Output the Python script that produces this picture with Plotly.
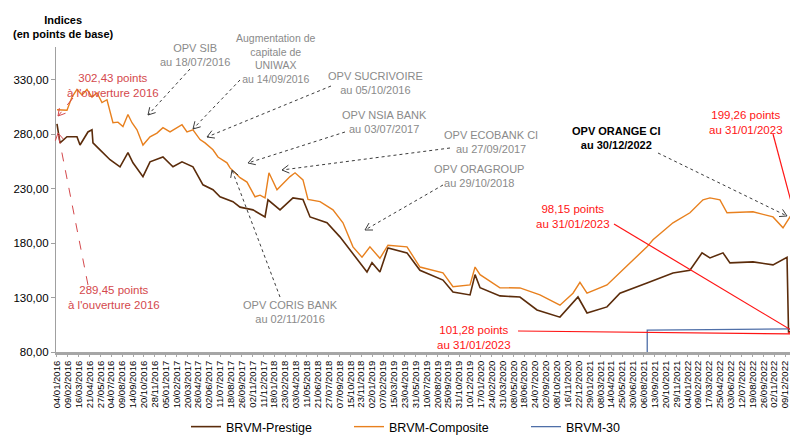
import math
import plotly.graph_objects as go

# ---------------- data ----------------
tick_labels = [
    "04/01/2016", "09/02/2016", "16/03/2016", "21/04/2016", "27/05/2016", "04/07/2016",
    "09/08/2016", "14/09/2016", "20/10/2016", "28/11/2016", "05/01/2017", "10/02/2017",
    "20/03/2017", "26/04/2017", "02/06/2017", "11/07/2017", "18/08/2017", "26/09/2017",
    "02/11/2017", "11/12/2017", "18/01/2018", "23/02/2018", "03/04/2018", "11/05/2018",
    "21/06/2018", "27/07/2018", "07/09/2018", "15/10/2018", "23/11/2018", "02/01/2019",
    "07/02/2019", "15/03/2019", "23/04/2019", "31/05/2019", "10/07/2019", "20/08/2019",
    "25/09/2019", "31/10/2019", "10/12/2019", "17/01/2020", "24/02/2020", "31/03/2020",
    "08/05/2020", "18/06/2020", "24/07/2020", "02/09/2020", "08/10/2020", "16/11/2020",
    "22/12/2020", "29/01/2021", "08/03/2021", "14/04/2021", "25/05/2021", "30/06/2021",
    "06/08/2021", "13/09/2021", "20/10/2021", "29/11/2021", "04/01/2022", "09/02/2022",
    "17/03/2022", "25/04/2022", "03/06/2022", "12/07/2022", "19/08/2022", "26/09/2022",
    "02/11/2022", "09/12/2022", "17/01/2023",
]

# positions expressed in tick-interval units (0 = 04/01/2016, 68 = 17/01/2023)
composite_pos = [0, 0.92, 1.38, 1.84, 2.3, 2.76, 3.22, 3.68, 4.14, 4.6, 5.15, 5.61, 6.07, 6.53,
                 6.9, 7.36, 7.91, 8.56, 9.2, 9.75, 10.4, 11.04, 11.5, 11.96, 12.51, 13.16, 13.62,
                 14.35, 14.81, 15.64, 15.92, 16.84, 17.48, 18.22, 18.68, 19.14, 19.5, 20.24, 21.44,
                 21.9, 22.63, 23.09, 24.2, 25.39, 26.31, 27.23, 28.06, 28.79, 29.71, 30.45, 32.2,
                 33.39, 35.51, 36.43, 38.0, 38.46, 38.92, 40.75, 42.59, 44.43, 46.27, 47.47, 48.11,
                 48.76, 50.6, 52.71, 54.28, 54.83, 56.67, 58.23, 59.43, 60.07, 60.99, 61.64, 64.03,
                 65.87, 66.79, 67.43, 68.08, 68.4]
composite_val = [302.43, 302, 314, 321, 316, 321, 314, 318, 309, 311.6, 290.5, 291, 287, 298,
                 290.5, 284, 270, 277.6, 281, 286, 282, 286, 288.6, 282, 284, 275, 272,
                 265.6, 259, 253.7, 249, 240, 236, 222.5, 224, 221.5, 244.5, 229, 241,
                 244.5, 238, 220, 218, 210.5, 198.6, 176.5, 167, 176.5, 166, 178, 176.5,
                 158, 152.6, 140, 141.6, 158, 151, 139, 138.8, 132.4, 123, 134, 144,
                 134, 141.6, 161.8, 176.5, 183, 198.6, 207.8, 219.7, 221.5, 219.7, 207.8, 208.7,
                 204, 194, 204, 197.6, 199.26]

prestige_pos = [0, 0.28, 0.92, 1.84, 2.12, 2.85, 3.22, 3.31, 3.96, 4.88, 5.8, 6.53, 6.99, 7.91,
                8.56, 9.75, 10.67, 11.5, 12.51, 13.43, 14.35, 15.0, 16.19, 16.84, 18.03, 19.14,
                19.41, 20.52, 21.71, 22.63, 23.28, 24.84, 26.03, 26.95, 28.52, 28.98, 29.71, 30.45,
                32.2, 33.39, 35.51, 36.43, 38.0, 38.46, 38.92, 40.75, 42.59, 44.16, 46.27, 47.93,
                48.76, 50.6, 51.79, 54.28, 56.67, 58.23, 59.34, 60.07, 61.27, 61.91, 64.03, 65.87,
                67.16, 67.3, 68.08, 68.4]
prestige_val = [289.45, 272, 277.6, 277.6, 270, 282, 284, 272, 265.6, 256.5, 250, 263, 253.7, 241,
                254.6, 259, 250, 254.6, 250, 233.5, 229, 222.5, 218, 213, 210.5, 204,
                219.7, 210.5, 221.5, 220, 204, 198.6, 185.7, 173.7, 153.5, 162, 153.5, 175.6,
                171, 155, 146, 135, 132.4, 151, 139, 131.5, 130.5, 118.6, 112, 130.5,
                115.8, 121.4, 134, 143.4, 152.6, 155, 171, 166.4, 171, 161.8, 162.7, 160,
                167, 98.5, 98.15, 98.15]

brvm30_pos = [54.3, 54.3, 60.0, 64.0, 68.4]
brvm30_val = [0, 100.0, 100.5, 100.8, 101.28]

y_ticks = [80, 130, 180, 230, 280, 330]

assert len(composite_pos) == len(composite_val)
assert len(prestige_pos) == len(prestige_val)

FONT = "Liberation Sans"
C_PRESTIGE = "#5b2c0b"
C_COMPOSITE = "#e8801e"
C_BRVM30 = "#4f6fa8"
C_GREY = "#8a8a8a"
C_RED_SOFT = "#d4484c"
C_RED = "#ff1414"

# page offset (the html body has an 8px margin); coordinates below are in screen pixels
OFF = 8
SCREEN_W, SCREEN_H = 798, 436
W, H = SCREEN_W - OFF, SCREEN_H - OFF
# plot area in screen pixels
L, R, T, B = 56, 798, 47, 352


def px(x):
    return (x - L) / (R - L)


def py(y):
    return (B - y) / (B - T)


fig = go.Figure()
fig.add_trace(go.Scatter(x=prestige_pos, y=prestige_val, mode="lines", name="BRVM-Prestige",
                         line=dict(color=C_PRESTIGE, width=1.6), legend="legend"))
fig.add_trace(go.Scatter(x=composite_pos, y=composite_val, mode="lines", name="BRVM-Composite",
                         line=dict(color=C_COMPOSITE, width=1.4), legend="legend2"))
fig.add_trace(go.Scatter(x=brvm30_pos, y=brvm30_val, mode="lines", name="BRVM-30",
                         line=dict(color=C_BRVM30, width=1.3), legend="legend3"))

shapes = []
annotations = []


def arrow(x0, y0, x1, y1, color, dash, width, head=8, ang=30):
    shapes.append(dict(type="line", xref="paper", yref="paper", x0=px(x0), y0=py(y0),
                       x1=px(x1), y1=py(y1), line=dict(color=color, width=width, dash=dash)))
    dx, dy = x1 - x0, y1 - y0
    ln = math.hypot(dx, dy)
    ux, uy = -dx / ln, -dy / ln
    pts = []
    for s in (1, -1):
        a = math.radians(ang * s)
        bx = ux * math.cos(a) - uy * math.sin(a)
        by = ux * math.sin(a) + uy * math.cos(a)
        pts.append((x1 + bx * head, y1 + by * head))
    path = (f"M {px(pts[0][0])},{py(pts[0][1])} L {px(x1)},{py(y1)} "
            f"L {px(pts[1][0])},{py(pts[1][1])}")
    shapes.append(dict(type="path", xref="paper", yref="paper", path=path,
                       line=dict(color=color, width=width)))


def label(x, y, text, color, size=11, bold=False):
    if bold:
        text = "<br>".join(f"<b>{t}</b>" for t in text.split("<br>"))
    annotations.append(dict(xref="paper", yref="paper", x=px(x), y=py(y), text=text,
                            showarrow=False, xanchor="center", yanchor="middle",
                            font=dict(family=FONT, size=size, color=color)))


label(63, 27, "Indices<br>(en points de base)", "#000000", size=11, bold=True)

label(113, 85, "302,43 points<br>à l'ouverture 2016", C_RED_SOFT, size=11.5)
arrow(73, 98, 58, 116, C_RED_SOFT, "dash", 1)
label(114, 297, "289,45 points<br>à l'ouverture 2016", C_RED_SOFT, size=11.5)
arrow(88, 285, 58, 133, C_RED_SOFT, "dash", 1)

DOT = "#3c3c3c"
label(195, 55, "OPV SIB<br>au 18/07/2016", C_GREY, size=11)
arrow(190, 69, 148, 115, DOT, "dot", 1)
label(276, 58, "Augmentation de<br>capitale de<br>UNIWAX<br>au 14/09/2016", C_GREY, size=10.5)
arrow(240, 80, 193, 129, DOT, "dot", 1)
label(375, 83, "OPV SUCRIVOIRE<br>au 05/10/2016", C_GREY, size=11)
arrow(331, 86, 207, 137, DOT, "dot", 1)
label(384, 122, "OPV NSIA BANK<br>au 03/07/2017", C_GREY, size=11)
arrow(345, 132, 248, 163, DOT, "dot", 1)
label(491, 142, "OPV ECOBANK CI<br>au 27/09/2017", C_GREY, size=11)
arrow(450, 148, 282, 170, DOT, "dot", 1)
label(479, 176, "OPV ORAGROUP<br>au 29/10/2018", C_GREY, size=11)
arrow(443, 185, 365, 230, DOT, "dot", 1)
label(290, 312, "OPV CORIS BANK<br>au 02/11/2016", C_GREY, size=11)
arrow(280, 297, 232, 170, DOT, "dot", 1)

label(616, 138, "OPV ORANGE CI<br>au 30/12/2022", "#000000", size=11, bold=True)
arrow(658, 153, 787, 216, DOT, "dot", 1)

label(746, 122, "199,26 points<br>au 31/01/2023", C_RED, size=11.5)
arrow(773, 134, 797, 224, C_RED, "solid", 1.2)
label(573, 216, "98,15 points<br>au 31/01/2023", C_RED, size=11.5)
arrow(614, 224, 796, 333, C_RED, "solid", 1.2)
label(474, 337, "101,28 points<br>au 31/01/2023", C_RED, size=11.5)
arrow(518, 331, 797, 334, C_RED, "solid", 1.2)

legend_common = dict(orientation="h", yanchor="middle", xanchor="left", bgcolor="rgba(0,0,0,0)",
                     font=dict(family=FONT, size=12.5, color="#000000"), itemwidth=30)

fig.update_layout(
    width=W, height=H,
    margin=dict(l=L - OFF, r=SCREEN_W - R, t=T - OFF, b=SCREEN_H - B, pad=0, autoexpand=False),
    paper_bgcolor="white", plot_bgcolor="white",
    font=dict(family=FONT, color="#000000"),
    showlegend=True,
    legend=dict(x=px(186), y=py(427), **legend_common),
    legend2=dict(x=px(349), y=py(427), **legend_common),
    legend3=dict(x=px(526), y=py(427), **legend_common),
    xaxis=dict(range=[-0.09, 68.17], tickmode="array", tickvals=list(range(len(tick_labels))),
               ticktext=tick_labels, tickangle=-90, tickfont=dict(family=FONT, size=9.5, color="#000"),
               ticklabeloverflow="allow",
               showgrid=False, zeroline=False, showline=True, linecolor="#a6a6a6", linewidth=3,
               ticks="outside", ticklen=2, tickcolor="#a6a6a6", automargin=False),
    yaxis=dict(range=[80, 360], tickmode="array", tickvals=y_ticks,
               ticktext=[f"{v:.2f}".replace(".", ",") for v in y_ticks],
               tickfont=dict(family=FONT, size=11.5, color="#000"),
               showgrid=False, zeroline=False, showline=True, linecolor="#a0a0a0", linewidth=1.2,
               ticks="outside", ticklen=4, tickcolor="#a0a0a0", automargin=False),
    shapes=shapes,
    annotations=annotations,
)

fig.write_html("out.html")
